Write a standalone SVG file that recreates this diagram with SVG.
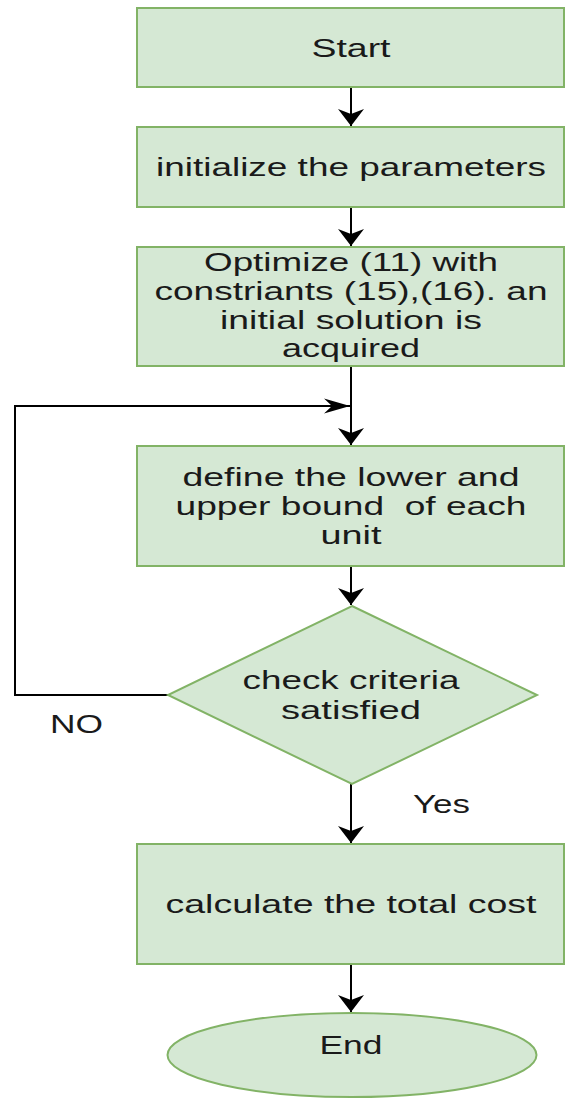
<svg xmlns="http://www.w3.org/2000/svg" width="565" height="1101" viewBox="0 0 565 1101">
  <style>
    .node { fill: #d5e8d4; stroke: #82b366; stroke-width: 2; }
    .lbl { font-family: "Liberation Sans", Arial, sans-serif; font-size: 26px; fill: #1a1a1a; text-anchor: middle; }
    .elbl { font-family: "Liberation Sans", Arial, sans-serif; font-size: 26px; fill: #1a1a1a; }
    .edge { fill: none; stroke: #000; stroke-width: 2; }
  </style>
  <defs>
    <marker id="arrowDown" markerUnits="userSpaceOnUse" markerWidth="28" markerHeight="19" refX="13" refY="17" orient="0" overflow="visible">
      <path d="M0,0 L13,5 L26,0 L13,17 Z" fill="#000"/>
    </marker>
    <marker id="arrowRight" markerUnits="userSpaceOnUse" markerWidth="28" markerHeight="17" refX="26" refY="7.5" orient="0" overflow="visible">
      <path d="M0,0 L8,7.5 L0,15 L26,7.5 Z" fill="#000"/>
    </marker>
  </defs>

  <g id="connectors">
    <path class="edge" d="M351,87 V126" marker-end="url(#arrowDown)"/>
    <path class="edge" d="M351,207 V246" marker-end="url(#arrowDown)"/>
    <path class="edge" d="M351,366 V445" marker-end="url(#arrowDown)"/>
    <path class="edge" d="M351,566 V605" marker-end="url(#arrowDown)"/>
    <path class="edge" d="M351,784 V843" marker-end="url(#arrowDown)"/>
    <path class="edge" d="M351,964 V1012" marker-end="url(#arrowDown)"/>
    <path class="edge" d="M168,695 H15 V406 H350" marker-end="url(#arrowRight)"/>
    <text class="elbl" x="413" y="813" textLength="57" lengthAdjust="spacingAndGlyphs">Yes</text>
    <text class="elbl" x="50" y="733" textLength="53" lengthAdjust="spacingAndGlyphs">NO</text>
  </g>

  <g id="start">
    <rect class="node" x="137" y="8" width="427" height="79"/>
    <text class="lbl" x="351" y="57" textLength="79" lengthAdjust="spacingAndGlyphs">Start</text>
  </g>

  <g id="init">
    <rect class="node" x="137" y="127" width="427" height="80"/>
    <text class="lbl" x="351" y="176" textLength="390" lengthAdjust="spacingAndGlyphs">initialize the parameters</text>
  </g>

  <g id="optimize">
    <rect class="node" x="137" y="247" width="427" height="119"/>
    <text class="lbl" x="351" y="271" textLength="294" lengthAdjust="spacingAndGlyphs">Optimize (11) with</text>
    <text class="lbl" x="351" y="300" textLength="393" lengthAdjust="spacingAndGlyphs">constriants (15),(16). an</text>
    <text class="lbl" x="351" y="329" textLength="262" lengthAdjust="spacingAndGlyphs">initial solution is</text>
    <text class="lbl" x="351" y="357" textLength="138" lengthAdjust="spacingAndGlyphs">acquired</text>
  </g>

  <g id="define">
    <rect class="node" x="137" y="446" width="427" height="120"/>
    <text class="lbl" x="351" y="486" textLength="337" lengthAdjust="spacingAndGlyphs">define the lower and</text>
    <text class="lbl" x="351" y="515" textLength="351" lengthAdjust="spacingAndGlyphs" xml:space="preserve">upper bound  of each</text>
    <text class="lbl" x="351" y="544" textLength="61" lengthAdjust="spacingAndGlyphs">unit</text>
  </g>

  <g id="check">
    <polygon class="node" points="352,606 537,695 352,784 168,695"/>
    <text class="lbl" x="351" y="689" textLength="217" lengthAdjust="spacingAndGlyphs">check criteria</text>
    <text class="lbl" x="351" y="719" textLength="140" lengthAdjust="spacingAndGlyphs">satisfied</text>
  </g>

  <g id="calculate">
    <rect class="node" x="137" y="844" width="427" height="120"/>
    <text class="lbl" x="351" y="913" textLength="371" lengthAdjust="spacingAndGlyphs">calculate the total cost</text>
  </g>

  <g id="end">
    <ellipse class="node" cx="352" cy="1055" rx="184.5" ry="42"/>
    <text class="lbl" x="351" y="1054" textLength="63" lengthAdjust="spacingAndGlyphs">End</text>
  </g>
</svg>
